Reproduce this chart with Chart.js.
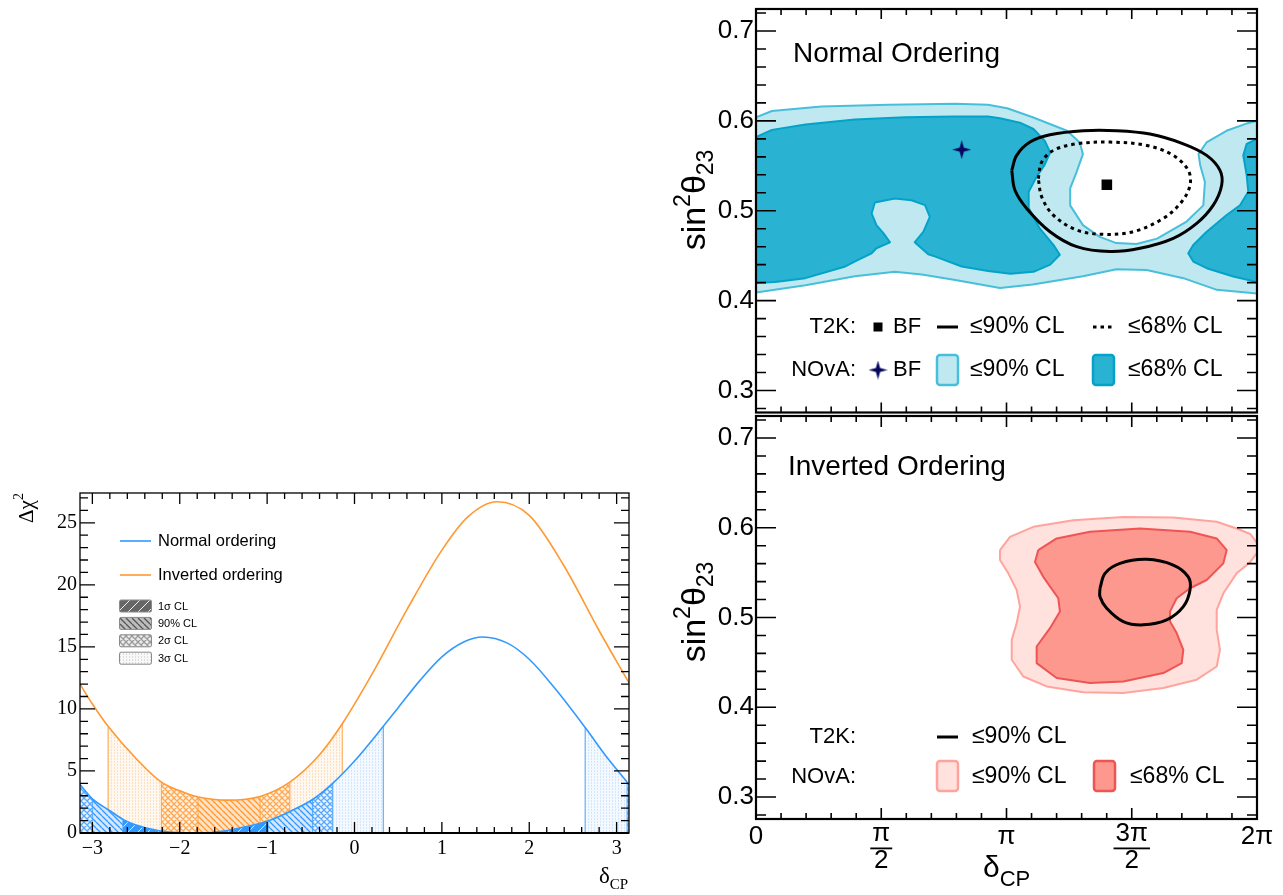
<!DOCTYPE html>
<html>
<head>
<meta charset="utf-8">
<title>T2K / NOvA delta_CP</title>
<script src="https://cdn.jsdelivr.net/npm/chart.js@4.4.1/dist/chart.umd.min.js"></script>
<style>
  html, body { margin: 0; padding: 0; background: #fff; }
  #page { position: relative; width: 1283px; height: 895px; overflow: hidden; }
  .pane { position: absolute; }
</style>
</head>
<body>
<div id="page">
  <div class="pane" style="left:0;top:480px;width:650px;height:415px"><canvas id="chi2Chart"></canvas></div>
  <div class="pane" style="left:640px;top:0;width:643px;height:416px"><canvas id="noChart"></canvas></div>
  <div class="pane" style="left:640px;top:414px;width:643px;height:481px"><canvas id="ioChart"></canvas></div>
</div>
<script>
(function () {
  'use strict';

  const PI = Math.PI;

  // ===== Data: delta chi2 profiles (left panel) =====

  const NO_DCP  = [-3.1416, -3.0, -2.8, -2.65, -2.5, -2.25, -2.0, -1.75, -1.5, -1.25, -1.0, -0.75, -0.48, -0.25, 0.0, 0.33, 0.5, 0.75, 1.0, 1.25, 1.47, 1.75, 2.0, 2.3, 2.64, 2.9, 3.12, 3.1416];
  const NO_CHI2 = [3.9, 2.75, 1.8, 1.1, 0.65, 0.2, 0.03, 0.0, 0.15, 0.5, 0.95, 1.7, 2.7, 4.0, 5.8, 8.6, 10.1, 12.3, 14.2, 15.4, 15.8, 15.3, 14.0, 11.6, 8.5, 6.0, 4.1, 3.9];

  const IO_DCP  = [-3.1416, -3.0, -2.82, -2.5, -2.21, -2.0, -1.79, -1.45, -1.08, -0.74, -0.4, -0.14, 0.2, 0.6, 1.0, 1.3, 1.63, 2.0, 2.4, 2.8, 3.1416];
  const IO_CHI2 = [12.0, 10.4, 8.6, 6.0, 4.1, 3.4, 2.9, 2.65, 2.95, 4.1, 6.3, 8.8, 12.8, 18.0, 22.8, 25.5, 26.7, 25.6, 21.5, 16.3, 12.1];

  // confidence level bands under each curve: [from, to, level]
  const NO_BANDS = [
    [-3.1416, -3.0, '2s'], [-3.0, -2.65, '90'], [-2.65, -0.99, '1s'], [-0.99, -0.48, '90'],
    [-0.48, -0.25, '2s'], [-0.25, 0.33, '3s'], [2.64, 3.12, '3s'], [3.12, 3.1416, '2s'],
  ];
  const IO_BANDS = [
    [-2.82, -2.21, '3s'], [-2.21, -1.79, '2s'], [-1.79, -1.08, '90'], [-1.08, -0.74, '2s'], [-0.74, -0.14, '3s'],
  ];

  const CHI2_X_TICKS = [-3, -2, -1, 0, 1, 2, 3];
  const CHI2_Y_TICKS = [0, 5, 10, 15, 20, 25];
  const CL_KEYS = ['1s', '90', '2s', '3s'];
  const CL_LABELS = ['1σ CL', '90% CL', '2σ CL', '3σ CL'];

  // ===== Data: sin2theta23 vs delta_CP contours (right panels) =====

  const S23_TICKS = [0.3, 0.4, 0.5, 0.6, 0.7];
  const DCP_TICKS = [0, PI / 2, PI, 3 * PI / 2, 2 * PI];
  const DCP_LABELS = [['0'], ['π', '2'], ['π'], ['3π', '2'], ['2π']];

  const NOVA_NO_90 = [
    [0.0, 0.604], [0.2, 0.611], [0.82, 0.616], [1.66, 0.618], [2.50, 0.619], [2.91, 0.618], [3.15, 0.614],
    [3.47, 0.604], [3.90, 0.589], [4.06, 0.576], [4.10, 0.563], [4.02, 0.543], [3.94, 0.525], [3.94, 0.506],
    [4.10, 0.484], [4.31, 0.471], [4.52, 0.464], [4.77, 0.463], [5.03, 0.469], [5.40, 0.488], [5.61, 0.506],
    [5.63, 0.532], [5.57, 0.551], [5.55, 0.563], [5.65, 0.576], [5.90, 0.589], [6.15, 0.597], [6.2832, 0.600],
    [6.2832, 0.408], [5.78, 0.412], [5.36, 0.425], [4.90, 0.434], [4.52, 0.435], [4.10, 0.427], [3.47, 0.418],
    [3.06, 0.414], [2.50, 0.423], [2.08, 0.429], [1.74, 0.432], [1.24, 0.427], [0.62, 0.417], [0.0, 0.409],
  ];
  const NOVA_NO_68_LEFT = [
    [0.0, 0.582], [0.2, 0.590], [0.62, 0.596], [1.24, 0.6015], [1.87, 0.604], [2.50, 0.605], [2.91, 0.605],
    [3.06, 0.603], [3.31, 0.598], [3.48, 0.591], [3.62, 0.578], [3.69, 0.565], [3.62, 0.551], [3.52, 0.538],
    [3.42, 0.521], [3.42, 0.503], [3.56, 0.480], [3.73, 0.462], [3.81, 0.451], [3.69, 0.440], [3.48, 0.432],
    [3.19, 0.430], [2.91, 0.433], [2.58, 0.438], [2.25, 0.449], [2.16, 0.4516], [1.99, 0.4649], [2.10, 0.4767],
    [2.18, 0.4933], [2.12, 0.5062], [1.95, 0.5117], [1.74, 0.5136], [1.49, 0.5092], [1.45, 0.4970], [1.51, 0.4840],
    [1.60, 0.4748], [1.68, 0.4649], [1.51, 0.4583], [1.45, 0.4527], [1.28, 0.4453], [1.12, 0.4380], [0.62, 0.4250],
    [0.24, 0.4206], [0.0, 0.4195],
  ];
  const NOVA_NO_68_RIGHT = [
    [6.2832, 0.580], [6.154, 0.5745], [6.111, 0.5616], [6.154, 0.5394], [6.174, 0.5211], [6.070, 0.5062],
    [5.903, 0.4952], [5.652, 0.4767], [5.484, 0.4619], [5.421, 0.4527], [5.484, 0.4435], [5.652, 0.4361],
    [5.986, 0.4269], [6.2832, 0.4206],
  ];
  const T2K_NO_90 = [
    [3.207, 0.545], [3.269, 0.5616], [3.436, 0.5764], [3.687, 0.5845], [4.105, 0.589], [4.523, 0.589],
    [4.941, 0.5853], [5.359, 0.5745], [5.652, 0.5616], [5.819, 0.545], [5.840, 0.5284], [5.735, 0.5062],
    [5.527, 0.4859], [5.233, 0.4693], [4.816, 0.4582], [4.439, 0.4546], [4.022, 0.4601], [3.687, 0.4767],
    [3.395, 0.5026], [3.248, 0.5228],
  ];
  const T2K_NO_68 = [
    [3.540, 0.5358], [3.583, 0.5542], [3.728, 0.5671], [4.022, 0.5745], [4.439, 0.5764], [4.900, 0.5727],
    [5.233, 0.5616], [5.421, 0.545], [5.443, 0.5284], [5.339, 0.5100], [5.108, 0.4915], [4.732, 0.4767],
    [4.355, 0.4738], [4.022, 0.4785], [3.728, 0.4952], [3.583, 0.5155],
  ];
  const T2K_NO_BF = [4.40, 0.529];
  const NOVA_NO_BF = [2.58, 0.568];

  const NOVA_IO_90 = [
    [3.060, 0.5751], [3.185, 0.5899], [3.478, 0.601], [3.979, 0.6084], [4.606, 0.6121], [5.233, 0.6114],
    [5.778, 0.6066], [6.028, 0.5992], [6.20, 0.593], [6.2832, 0.583], [6.2832, 0.572], [6.195, 0.5614],
    [6.028, 0.5492], [5.861, 0.527], [5.778, 0.5084], [5.778, 0.4862], [5.819, 0.464], [5.778, 0.4454],
    [5.527, 0.4307], [5.108, 0.4214], [4.606, 0.4159], [4.105, 0.4166], [3.646, 0.4232], [3.352, 0.4343],
    [3.207, 0.4529], [3.207, 0.4751], [3.269, 0.4937], [3.311, 0.5121], [3.269, 0.5307], [3.164, 0.5492],
    [3.060, 0.564],
  ];
  const NOVA_IO_68 = [
    [3.540, 0.5751], [3.771, 0.5881], [4.189, 0.5955], [4.816, 0.5992], [5.443, 0.5955], [5.778, 0.5881],
    [5.903, 0.5751], [5.861, 0.5603], [5.652, 0.5418], [5.443, 0.5326], [5.276, 0.5214], [5.192, 0.5066],
    [5.192, 0.4955], [5.276, 0.4826], [5.359, 0.464], [5.339, 0.4492], [5.108, 0.4381], [4.606, 0.4288],
    [4.189, 0.427], [3.771, 0.4326], [3.520, 0.4492], [3.520, 0.4677], [3.687, 0.4881], [3.812, 0.5066],
    [3.791, 0.5214], [3.603, 0.5453], [3.499, 0.5619],
  ];
  const T2K_IO_90 = [
    [4.314, 0.5326], [4.377, 0.5492], [4.565, 0.5603], [4.900, 0.5648], [5.233, 0.5584], [5.421, 0.5453],
    [5.443, 0.5307], [5.359, 0.5121], [5.150, 0.4973], [4.857, 0.4918], [4.606, 0.4955], [4.398, 0.5103],
    [4.314, 0.5232],
  ];

  // ===== Style =====

  const BLUE = '#3399ff';
  const ORANGE = '#ff9933';
  const SANS = "'Liberation Sans', Arial, sans-serif";
  const SERIF = "'Liberation Serif', 'Times New Roman', serif";

  const HATCH = {
    blue: {
      '1s': ['#3399ff', 'rgba(255,255,255,0.8)'],
      '90': ['#d3e8fe', '#3399ff'],
      '2s': ['#eaf4ff', '#5aa8fb'],
      '3s': ['#f4f9ff', '#d2e6fd'],
    },
    orange: {
      '1s': ['#ff9933', 'rgba(255,255,255,0.8)'],
      '90': ['#ffe2c4', '#ff9933'],
      '2s': ['#fff1e2', '#ffa853'],
      '3s': ['#fff8f0', '#fde0c2'],
    },
    gray: {
      '1s': ['#666666', 'rgba(255,255,255,0.9)'],
      '90': ['#bdbdbd', '#555555'],
      '2s': ['#ececec', '#9a9a9a'],
      '3s': ['#f8f8f8', '#dddddd'],
    },
  };

  Chart.defaults.font.family = SANS;
  Chart.defaults.color = '#000';

  // ===== Helpers =====

  function makePattern(ctx, level, bg, fg) {
    const n = level === '1s' ? 10 : (level === '3s' ? 3 : 6);
    const c = document.createElement('canvas');
    c.width = c.height = n;
    const g = c.getContext('2d');
    g.fillStyle = bg;
    g.fillRect(0, 0, n, n);
    g.strokeStyle = fg;
    g.lineWidth = level === '90' || level === '2s' ? 1.3 : 1;
    g.beginPath();
    if (level === '1s' || level === '2s') {
      [-n, 0, n].forEach((k) => { g.moveTo(k, n); g.lineTo(k + n, 0); });
    }
    if (level === '90' || level === '2s') {
      [-n, 0, n].forEach((k) => { g.moveTo(k, 0); g.lineTo(k + n, n); });
    }
    g.stroke();
    if (level === '3s') {
      g.fillStyle = fg;
      g.fillRect(0, 0, 1, 1);
      g.fillRect(0, 2, 1, 1);
    }
    return ctx.createPattern(c, 'repeat');
  }

  function starImage(size, color) {
    const c = document.createElement('canvas');
    c.width = c.height = size;
    const g = c.getContext('2d');
    const r = size / 2, k = r * 0.22;
    g.fillStyle = color;
    g.beginPath();
    g.moveTo(r, 0); g.lineTo(r + k, r - k); g.lineTo(size, r); g.lineTo(r + k, r + k);
    g.lineTo(r, size); g.lineTo(r - k, r + k); g.lineTo(0, r); g.lineTo(r - k, r - k);
    g.closePath();
    g.fill();
    return c;
  }

  function drawRich(ctx, parts, x, y, align) {
    let w = 0;
    parts.forEach((p) => { ctx.font = p.font; p.w = ctx.measureText(p.t).width; w += p.w; });
    let cx = align === 'center' ? x - w / 2 : (align === 'right' ? x - w : x);
    ctx.textAlign = 'left';
    ctx.textBaseline = 'alphabetic';
    parts.forEach((p) => { ctx.font = p.font; ctx.fillText(p.t, cx, y + (p.dy || 0)); cx += p.w; });
  }

  // fixed axis box, no automatic label padding
  function fixAxis(size, horizontal) {
    return (s) => {
      if (horizontal) s.height = size; else s.width = size;
      s.paddingTop = 0;
      s.paddingBottom = 0;
      s.paddingLeft = 0;
      s.paddingRight = 0;
    };
  }

  // inward tick marks on all four sides plus the frame
  function drawFrame(chart, o) {
    const { ctx, chartArea: a, scales: { x, y } } = chart;
    ctx.save();
    ctx.strokeStyle = '#000';
    ctx.lineWidth = o.tickWidth;
    ctx.beginPath();
    for (let i = o.xFrom; i <= o.xTo; i++) {
      const px = x.getPixelForValue(i * o.xStep);
      const len = i % o.xMajorEvery === 0 ? o.xLen[1] : o.xLen[0];
      ctx.moveTo(px, a.bottom); ctx.lineTo(px, a.bottom - len);
      ctx.moveTo(px, a.top); ctx.lineTo(px, a.top + len);
    }
    for (let i = o.yFrom; i <= o.yTo; i++) {
      const py = y.getPixelForValue(i * o.yStep);
      const len = i % o.yMajorEvery === 0 ? o.yLen[1] : o.yLen[0];
      ctx.moveTo(a.left, py); ctx.lineTo(a.left + len, py);
      ctx.moveTo(a.right, py); ctx.lineTo(a.right - len, py);
    }
    ctx.stroke();
    ctx.lineWidth = o.frameWidth;
    ctx.strokeRect(a.left, a.top, a.right - a.left, a.bottom - a.top);
    if (o.bottomWidth) {
      ctx.lineWidth = o.bottomWidth;
      ctx.beginPath(); ctx.moveTo(a.left, a.bottom); ctx.lineTo(a.right, a.bottom); ctx.stroke();
    }
    ctx.restore();
  }

  const xy = (arr) => arr.map(([x, y]) => ({ x, y }));
  const closed = (arr) => xy(arr.concat([arr[0]]));

  // fills a dataset's polygon just before its border is stroked
  const polyFillPlugin = {
    id: 'polyFill',
    beforeDatasetDraw(chart, args) {
      const ds = chart.data.datasets[args.index];
      if (!ds.polyFill) return;
      const { ctx, chartArea: a } = chart;
      const pts = args.meta.data;
      ctx.save();
      ctx.beginPath();
      ctx.rect(a.left, a.top, a.right - a.left, a.bottom - a.top);
      ctx.clip();
      ctx.beginPath();
      pts.forEach((p, k) => (k ? ctx.lineTo(p.x, p.y) : ctx.moveTo(p.x, p.y)));
      ctx.closePath();
      ctx.fillStyle = ds.polyFill;
      ctx.fill();
      ctx.restore();
    },
  };

  // ===== Left: delta chi2 vs delta_CP =====

  const CURVES = [
    { dcp: NO_DCP, chi2: NO_CHI2, color: BLUE, hatch: 'blue', bands: NO_BANDS, edge: 'rgba(51,153,255,0.75)' },
    { dcp: IO_DCP, chi2: IO_CHI2, color: ORANGE, hatch: 'orange', bands: IO_BANDS, edge: 'rgba(255,153,51,0.75)' },
  ];

  const bandPlugin = {
    id: 'clBands',
    beforeDatasetsDraw(chart) {
      const { ctx, chartArea: a, scales: { x, y } } = chart;
      const y0 = y.getPixelForValue(0);
      // inverted ordering first, normal ordering painted over it
      [1, 0].forEach((i) => {
        const c = CURVES[i];
        const meta = chart.getDatasetMeta(i);
        if (meta.dataset && meta.dataset.updateControlPoints) meta.dataset.updateControlPoints(a, 'x');
        const pts = meta.data;
        const area = new Path2D();
        area.moveTo(pts[0].x, y0);
        area.lineTo(pts[0].x, pts[0].y);
        for (let k = 1; k < pts.length; k++) {
          const p = pts[k - 1], q = pts[k];
          if (p.cp2x !== undefined && q.cp1x !== undefined) area.bezierCurveTo(p.cp2x, p.cp2y, q.cp1x, q.cp1y, q.x, q.y);
          else area.lineTo(q.x, q.y);
        }
        area.lineTo(pts[pts.length - 1].x, y0);
        area.closePath();

        ctx.save();
        ctx.beginPath();
        ctx.rect(a.left, a.top, a.right - a.left, a.bottom - a.top);
        ctx.clip();
        ctx.clip(area);
        const edges = new Set();
        c.bands.forEach(([from, to, level]) => {
          const x1 = x.getPixelForValue(from), x2 = x.getPixelForValue(to);
          const [bg, fg] = HATCH[c.hatch][level];
          ctx.fillStyle = makePattern(ctx, level, bg, fg);
          ctx.fillRect(x1, a.top, x2 - x1, y0 - a.top);
          [from, to].forEach((v) => { if (Math.abs(v) < 3.14) edges.add(v); });
        });
        ctx.strokeStyle = c.edge;
        ctx.lineWidth = 1.2;
        ctx.beginPath();
        edges.forEach((v) => {
          const px = x.getPixelForValue(v);
          ctx.moveTo(px, y0); ctx.lineTo(px, a.top);
        });
        ctx.stroke();
        ctx.restore();
      });
    },
    afterDraw(chart) {
      drawFrame(chart, {
        xFrom: -15, xTo: 15, xStep: 0.2, xMajorEvery: 5, xLen: [6, 11],
        yFrom: 0, yTo: 27, yStep: 1, yMajorEvery: 5, yLen: [8, 15],
        tickWidth: 1.3, frameWidth: 1.3, bottomWidth: 2.2,
      });
      const ctx = chart.ctx;
      ctx.save();
      ctx.fillStyle = '#000';
      // legend: lines
      [['Normal ordering', BLUE, 61], ['Inverted ordering', ORANGE, 95]].forEach(([txt, col, ly]) => {
        ctx.strokeStyle = col;
        ctx.lineWidth = 1.6;
        ctx.beginPath(); ctx.moveTo(120, ly); ctx.lineTo(151, ly); ctx.stroke();
        ctx.font = '16.5px ' + SANS;
        ctx.textAlign = 'left';
        ctx.textBaseline = 'middle';
        ctx.fillText(txt, 158, ly);
      });
      // legend: CL boxes
      CL_KEYS.forEach((key, i) => {
        const by = 120 + i * 17.4;
        const [bg, fg] = HATCH.gray[key];
        ctx.fillStyle = makePattern(ctx, key, bg, fg);
        ctx.beginPath();
        ctx.roundRect(119.5, by, 32, 12, 1.5);
        ctx.fill();
        ctx.strokeStyle = '#8a8a8a';
        ctx.lineWidth = 1;
        ctx.stroke();
        ctx.fillStyle = '#000';
        ctx.font = '11px ' + SANS;
        ctx.textBaseline = 'middle';
        ctx.fillText(CL_LABELS[i], 158, by + 6.5);
      });
      // axis titles
      ctx.fillStyle = '#000';
      ctx.save();
      ctx.translate(33, 28);
      ctx.rotate(-PI / 2);
      drawRich(ctx, [
        { t: 'Δχ', font: '21px ' + SERIF },
        { t: '2', font: '14px ' + SERIF, dy: -10 },
      ], 0, 0, 'center');
      ctx.restore();
      drawRich(ctx, [
        { t: 'δ', font: '23px ' + SERIF },
        { t: 'CP', font: '15px ' + SERIF, dy: 6 },
      ], 599, 403, 'left');
      ctx.restore();
    },
  };

  new Chart(document.getElementById('chi2Chart'), {
    type: 'line',
    data: {
      datasets: CURVES.map((c, i) => ({
        label: i === 0 ? 'Normal ordering' : 'Inverted ordering',
        data: c.dcp.map((v, k) => ({ x: v, y: c.chi2[k] })),
        borderColor: c.color,
        borderWidth: 1.6,
        pointRadius: 0,
        fill: false,
        cubicInterpolationMode: 'monotone',
      })),
    },
    options: {
      animation: false,
      responsive: true,
      maintainAspectRatio: false,
      devicePixelRatio: 1,
      events: [],
      layout: { autoPadding: false, padding: { top: 13, right: 21, left: 0, bottom: 0 } },
      plugins: { legend: { display: false }, tooltip: { enabled: false } },
      scales: {
        x: {
          type: 'linear',
          min: -PI,
          max: PI,
          afterBuildTicks: (s) => { s.ticks = CHI2_X_TICKS.map((v) => ({ value: v })); },
          afterFit: fixAxis(62, true),
          grid: { display: false, drawTicks: false },
          border: { display: false },
          ticks: {
            padding: 4,
            maxRotation: 0,
            font: { family: SERIF, size: 20 },
            callback: (v) => (v < 0 ? '\u2212' + Math.abs(v) : String(v)),
          },
        },
        y: {
          min: 0,
          max: 27.4,
          afterBuildTicks: (s) => { s.ticks = CHI2_Y_TICKS.map((v) => ({ value: v })); },
          afterFit: fixAxis(80, false),
          grid: { display: false, drawTicks: false },
          border: { display: false },
          ticks: { padding: 3, font: { family: SERIF, size: 20 } },
        },
      },
    },
    plugins: [bandPlugin],
  });

  // ===== Right: sin2theta23 vs delta_CP =====

  const NOVA_LIGHT = { fill: '#c0e8f1', edge: '#48bfda' };
  const NOVA_DARK = { fill: '#29b2d1', edge: '#03a3c9' };
  const PINK_LIGHT = { fill: '#ffe1de', edge: '#ffa49d' };
  const PINK_DARK = { fill: '#fd988f', edge: '#ef5454' };
  const NAVY = '#06065e';
  const STAR = starImage(19, NAVY);

  function contour(points, style, order) {
    return {
      data: closed(points),
      borderColor: style.edge,
      borderWidth: 2,
      borderJoinStyle: 'round',
      polyFill: style.fill,
      pointRadius: 0,
      fill: false,
      tension: 0,
      order,
    };
  }

  function t2kLine(points, dashed) {
    return {
      data: closed(points),
      borderColor: '#000',
      borderWidth: 3,
      borderDash: dashed ? [3.5, 4] : [],
      pointRadius: 0,
      fill: false,
      tension: 0.35,
      order: 2,
    };
  }

  function marker(pt, style, radius, color) {
    return {
      data: xy([pt]),
      showLine: false,
      pointStyle: style,
      pointRadius: radius,
      backgroundColor: color,
      borderColor: color,
      borderWidth: 0,
      order: 1,
    };
  }

  function legendBox(ctx, x, y, style) {
    ctx.beginPath();
    ctx.roundRect(x, y, 21, 30, 3);
    ctx.fillStyle = style.fill;
    ctx.fill();
    ctx.strokeStyle = style.edge;
    ctx.lineWidth = 2.5;
    ctx.stroke();
  }

  function panelOptions(padding) {
    return {
      animation: false,
      responsive: true,
      maintainAspectRatio: false,
      devicePixelRatio: 1,
      events: [],
      layout: { autoPadding: false, padding },
      plugins: { legend: { display: false }, tooltip: { enabled: false } },
      scales: {
        x: { type: 'linear', min: 0, max: 2 * PI, display: false },
        y: {
          min: 0.2755,
          max: 0.7245,
          afterBuildTicks: (s) => { s.ticks = S23_TICKS.map((v) => ({ value: v })); },
          afterFit: fixAxis(116, false),
          grid: { display: false, drawTicks: false },
          border: { display: false },
          ticks: { padding: 2, font: { family: SANS, size: 26 }, callback: (v) => v.toFixed(1) },
        },
      },
    };
  }

  function panelDecor(chart, xMajor) {
    drawFrame(chart, {
      xFrom: 0, xTo: 20, xStep: PI / 10, xMajorEvery: 5, xLen: [6, xMajor],
      yFrom: 14, yTo: 36, yStep: 0.02, yMajorEvery: 5, yLen: [10, 20],
      tickWidth: 1.6, frameWidth: 2.2,
    });
  }

  function yTitle(ctx, cy) {
    ctx.save();
    ctx.fillStyle = '#000';
    ctx.translate(65, cy);
    ctx.rotate(-PI / 2);
    drawRich(ctx, [
      { t: 'sin', font: '34px ' + SANS },
      { t: '2', font: '23px ' + SANS, dy: -15 },
      { t: 'θ', font: '34px ' + SANS },
      { t: '23', font: '23px ' + SANS, dy: 8 },
    ], 0, 0, 'center');
    ctx.restore();
  }

  function text(ctx, t, x, y, align, size) {
    ctx.font = size + 'px ' + SANS;
    ctx.textAlign = align;
    ctx.textBaseline = 'middle';
    ctx.fillStyle = '#000';
    ctx.fillText(t, x, y);
  }

  const noDecor = {
    id: 'noDecor',
    afterDraw(chart) {
      panelDecor(chart, 10);
      const ctx = chart.ctx;
      ctx.save();
      ctx.fillStyle = '#000';
      ctx.font = '28px ' + SANS;
      ctx.textAlign = 'left';
      ctx.textBaseline = 'alphabetic';
      ctx.fillText('Normal Ordering', 153, 62);
      yTitle(ctx, 200);
      // legend row 1: T2K
      text(ctx, 'T2K:', 216, 327, 'right', 22);
      ctx.fillStyle = '#000';
      ctx.fillRect(233.5, 322.5, 9, 9);
      text(ctx, 'BF', 253, 327, 'left', 22);
      ctx.strokeStyle = '#000';
      ctx.lineWidth = 3;
      ctx.beginPath(); ctx.moveTo(297, 327); ctx.lineTo(318, 327); ctx.stroke();
      text(ctx, '\u226490% CL', 330, 327, 'left', 23);
      ctx.setLineDash([3.5, 4]);
      ctx.beginPath(); ctx.moveTo(453, 327); ctx.lineTo(474, 327); ctx.stroke();
      ctx.setLineDash([]);
      text(ctx, '\u226468% CL', 488, 327, 'left', 23);
      // legend row 2: NOvA
      text(ctx, 'NOvA:', 216, 370, 'right', 22);
      ctx.drawImage(STAR, 238 - 9.5, 370 - 9.5);
      text(ctx, 'BF', 253, 370, 'left', 22);
      legendBox(ctx, 297, 355, NOVA_LIGHT);
      text(ctx, '\u226490% CL', 330, 370, 'left', 23);
      legendBox(ctx, 453, 355, NOVA_DARK);
      text(ctx, '\u226468% CL', 488, 370, 'left', 23);
      ctx.restore();
    },
  };

  new Chart(document.getElementById('noChart'), {
    type: 'line',
    data: {
      datasets: [
        contour(NOVA_NO_90, NOVA_LIGHT, 5),
        contour(NOVA_NO_68_LEFT, NOVA_DARK, 4),
        contour(NOVA_NO_68_RIGHT, NOVA_DARK, 4),
        t2kLine(T2K_NO_90, false),
        t2kLine(T2K_NO_68, true),
        marker(T2K_NO_BF, 'rect', 7.5, '#000'),
        marker(NOVA_NO_BF, STAR, 9, NAVY),
      ],
    },
    options: panelOptions({ top: 9, bottom: 3.5, right: 26, left: 0 }),
    plugins: [polyFillPlugin, noDecor],
  });

  const ioDecor = {
    id: 'ioDecor',
    afterDraw(chart) {
      panelDecor(chart, 11);
      const ctx = chart.ctx;
      const { chartArea: a, scales: { x } } = chart;
      ctx.save();
      ctx.fillStyle = '#000';
      ctx.font = '28px ' + SANS;
      ctx.textAlign = 'left';
      ctx.textBaseline = 'alphabetic';
      ctx.fillText('Inverted Ordering', 148, 61);
      yTitle(ctx, 198);
      // legend
      text(ctx, 'T2K:', 216, 323, 'right', 22);
      ctx.strokeStyle = '#000';
      ctx.lineWidth = 3;
      ctx.beginPath(); ctx.moveTo(297, 323); ctx.lineTo(318, 323); ctx.stroke();
      text(ctx, '\u226490% CL', 332, 323, 'left', 23);
      text(ctx, 'NOvA:', 216, 363, 'right', 22);
      legendBox(ctx, 297, 347, PINK_LIGHT);
      text(ctx, '\u226490% CL', 332, 363, 'left', 23);
      legendBox(ctx, 454, 347, PINK_DARK);
      text(ctx, '\u226468% CL', 490, 363, 'left', 23);
      // delta_CP tick labels with fractions
      DCP_TICKS.forEach((v, i) => {
        const px = x.getPixelForValue(v);
        const lab = DCP_LABELS[i];
        if (lab.length === 1) {
          text(ctx, lab[0], px, a.bottom + 18, 'center', 26);
        } else {
          text(ctx, lab[0], px, a.bottom + 15, 'center', 26);
          ctx.font = '26px ' + SANS;
          const w = ctx.measureText(lab[0]).width + 4;
          ctx.fillRect(px - w / 2, a.bottom + 28.5, w, 1.8);
          text(ctx, lab[1], px, a.bottom + 42, 'center', 26);
        }
      });
      drawRich(ctx, [
        { t: 'δ', font: '30px ' + SANS },
        { t: 'CP', font: '22px ' + SANS, dy: 9 },
      ], 343, 463, 'left');
      ctx.restore();
    },
  };

  new Chart(document.getElementById('ioChart'), {
    type: 'line',
    data: {
      datasets: [
        contour(NOVA_IO_90, PINK_LIGHT, 5),
        contour(NOVA_IO_68, PINK_DARK, 4),
        t2kLine(T2K_IO_90, false),
      ],
    },
    options: panelOptions({ top: 2, bottom: 76, right: 26, left: 0 }),
    plugins: [polyFillPlugin, ioDecor],
  });
})();
</script>
</body>
</html>
